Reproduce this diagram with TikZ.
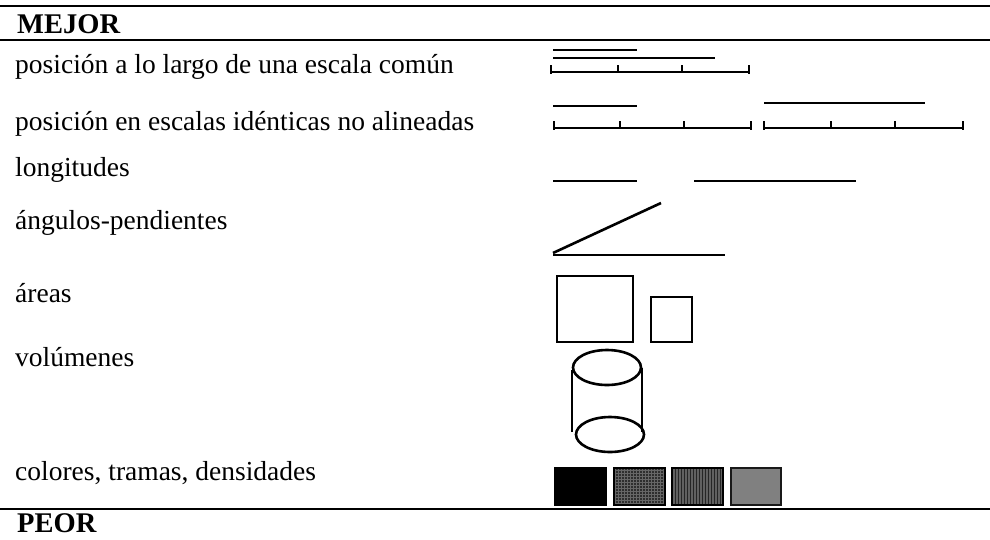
\documentclass[tikz,border=0pt]{standalone}
\usepackage{fontspec}
\setmainfont{Liberation Serif}
\usetikzlibrary{patterns}
\begin{document}
\begin{tikzpicture}[x=1pt,y=-1pt,
  lbl/.style={anchor=base west,inner sep=0pt,font=\fontsize{27.5}{29}\selectfont},
  hdr/.style={anchor=base west,inner sep=0pt,font=\fontsize{28.5}{30}\selectfont\bfseries},
  rule/.style={line width=2.6pt},
  shp/.style={line width=2.6pt,line cap=butt},
  tick/.style={line width=2.6pt}]
\useasboundingbox (0,0) rectangle (990,539);
% rules
\draw[rule] (0,6) -- (990,6);
\draw[rule] (0,40) -- (990,40);
\draw[rule] (0,509) -- (990,509);
% headers
\node[hdr] (mejor) at (17,33) {MEJOR};
\node[hdr] (peor) at (17,532) {PEOR};
% labels
\node[lbl] (l1) at (15,73) {posición a lo largo de una escala común};
\node[lbl] (l2) at (15,130) {posición en escalas idénticas no alineadas};
\node[lbl] (l3) at (15,176) {longitudes};
\node[lbl] (l4) at (15,229) {ángulos-pendientes};
\node[lbl] (l5) at (15,302) {áreas};
\node[lbl] (l6) at (15,366) {volúmenes};
\node[lbl] (l7) at (15,480) {colores, tramas, densidades};
% row 1: common scale
\draw[shp] (553,50) -- (637,50);
\draw[shp] (553,58) -- (715,58);
\draw[shp] (551,72) -- (749,72);
\foreach \x in {551,618,682,749} \draw[tick] (\x,72) -- (\x,65);
\draw[tick] (551,72) -- (551,74);
\draw[tick] (749,72) -- (749,74);
% row 2: non-aligned scales
\draw[shp] (553,106) -- (637,106);
\draw[shp] (554,128) -- (751,128);
\foreach \x in {554,620,684,751} \draw[tick] (\x,128) -- (\x,121);
\draw[tick] (554,128) -- (554,130);
\draw[tick] (751,128) -- (751,130);
\draw[shp] (764,103) -- (925,103);
\draw[shp] (764,128) -- (963,128);
\foreach \x in {764,831,895,963} \draw[tick] (\x,128) -- (\x,121);
\draw[tick] (764,128) -- (764,130);
\draw[tick] (963,128) -- (963,130);
% row 3: lengths
\draw[shp] (553,181) -- (637,181);
\draw[shp] (694,181) -- (856,181);
% row 4: angle
\draw[shp] (553,253) -- (661,203);
\draw[shp] (553,255) -- (725,255);
% row 5: areas
\draw[shp] (557,276) rectangle (633,342);
\draw[shp] (651,297) rectangle (692,342);
% row 6: volume
\draw[shp] (607,367.5) ellipse [x radius=34, y radius=17.5];
\draw[shp] (610,434.5) ellipse [x radius=34, y radius=17.5];
\draw[shp] (572,370) -- (572,432);
\draw[shp] (642,368) -- (642,432);
% row 7: colours
\fill[black] (554,467) rectangle (607,506);
\fill[black!82] (613,467) rectangle (666,506);
\fill[pattern=grid,pattern color=black!60] (614,468) rectangle (665,505);
\draw[line width=2.6pt] (614,468) rectangle (665,505);
\fill[black!62] (671,467) rectangle (724,506);
\fill[pattern=vertical lines,pattern color=black!85] (672,468) rectangle (723,505);
\draw[line width=2.6pt] (672,468) rectangle (723,505);
\fill[black!50] (730,467) rectangle (782,506);
\draw[line width=2.6pt,black!90] (731,468) rectangle (781,505);
\end{tikzpicture}
\end{document}
